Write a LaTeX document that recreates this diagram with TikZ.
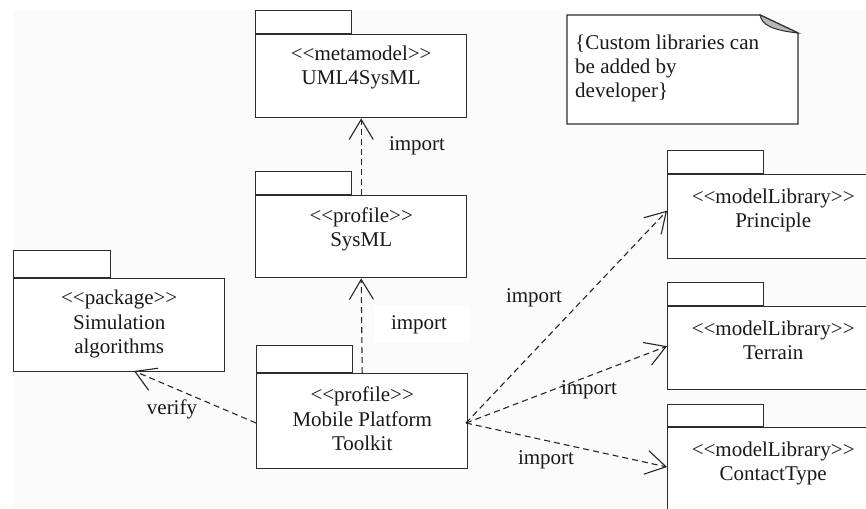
\documentclass[tikz,border=0pt]{standalone}
\usepackage{fontspec}
\newfontfamily\tnr{Liberation Serif}
\usetikzlibrary{arrows.meta,calc}
\definecolor{bgc}{RGB}{251,251,251}
\definecolor{lnc}{RGB}{45,45,45}
\tikzset{
  body/.style={draw=lnc,line width=1.4pt,fill=white,minimum width=211pt,inner sep=0pt,anchor=north west},
  tabbox/.style={draw=lnc,line width=1.4pt,fill=white,minimum width=96pt,inner sep=0pt,anchor=south west},
  lbl/.style={font=\tnr\fontsize{21}{24.5}\selectfont,align=center,inner sep=0pt,anchor=north,text=black!90},
  dep/.style={draw=black!85,line width=1.1pt,dash pattern=on 6pt off 4pt,-{Straight Barb[length=20pt,width=24pt,line width=1.1pt]}},
  elbl/.style={font=\tnr\fontsize{21}{24.5}\selectfont,inner sep=0pt,text=black!90},
}
\begin{document}
\begin{tikzpicture}[x=1pt,y=-1pt]
\useasboundingbox (0,0) rectangle (866,508);
\fill[white] (0,0) rectangle (866,508);
\fill[bgc] (13,10) rectangle (866,508);
\begin{scope}
\clip (0,0) rectangle (866,508);
% UML4SysML
\node[body,minimum height=83pt] (uml) at (255,34) {};
\node[tabbox,minimum height=23pt] (umlt) at (uml.north west) {};
\node[lbl] (umlx) at ($(uml.north)+(0,11.5)$) {<<metamodel>>\\UML4SysML};
% SysML
\node[body,minimum height=82pt] (sys) at (255,195) {};
\node[tabbox,minimum height=23pt] (syst) at (sys.north west) {};
\node[lbl] (sysx) at ($(sys.north)+(0,12.5)$) {<<profile>>\\SysML};
% Simulation algorithms
\node[body,minimum height=93pt] (sim) at (13,278) {};
\node[tabbox,minimum height=27pt,minimum width=97pt] (simt) at (sim.north west) {};
\node[lbl] (simx) at ($(sim.north)+(0,12)$) {<<package>>\\Simulation\\algorithms};
% Mobile Platform Toolkit
\node[body,minimum height=95pt] (mob) at (256,373) {};
\node[tabbox,minimum height=27pt] (mobt) at (mob.north west) {};
\node[lbl] (mobx) at ($(mob.north)+(0,14)$) {<<profile>>\\Mobile Platform\\Toolkit};
% Principle
\node[body,minimum height=84pt] (pri) at (667,174) {};
\node[tabbox,minimum height=23pt] (prit) at (pri.north west) {};
\node[lbl] (prix) at ($(pri.north)+(0,14.5)$) {<<modelLibrary>>\\Principle};
% Terrain
\node[body,minimum height=83pt] (ter) at (667,306) {};
\node[tabbox,minimum height=23pt] (tert) at (ter.north west) {};
\node[lbl] (terx) at ($(ter.north)+(0,14.5)$) {<<modelLibrary>>\\Terrain};
% ContactType
\node[body,minimum height=90pt] (con) at (667,427) {};
\node[tabbox,minimum height=22pt] (cont) at (con.north west) {};
\node[lbl] (conx) at ($(con.north)+(0,14.5)$) {<<modelLibrary>>\\ContactType};
% Note
\filldraw[draw=lnc,line width=1.4pt,fill=white] (567,15) -- (760,15) -- (798,33) -- (798,124) -- (567,124) -- cycle;
\filldraw[draw=lnc,line width=1pt,fill=black!28] (760,15) .. controls (762,24) and (770,30) .. (798,33) -- cycle;
\node[font=\tnr\fontsize{21}{24}\selectfont,align=left,inner sep=0pt,anchor=north west,text=black!90] (note) at (575,34.5) {\{Custom libraries can\\be added by\\developer\}};
% connectors
\coordinate (mp) at (466,423);
\coordinate (mpw) at (256,423);
\draw[dep] (sys.north) -- (uml.south);
\draw[dep] (mob.north) -- (sys.south);
\draw[dep] (mpw) -- (134,371);
\draw[dep] (mp) -- ($(pri.west)+(0,-6)$);
\draw[dep] (mp) -- ($(ter.west)+(0,-2)$);
\draw[dep] (mp) -- ($(con.north west)+(0,40)$);
% labels
\node[elbl] (l1) at (417,146) {import};
\fill[white] (375,305) rectangle (469,343);
\node[elbl] (l2) at (419,325) {import};
\node[elbl] (l3) at (534,298) {import};
\node[elbl] (l4) at (589,390) {import};
\node[elbl] (l5) at (546,460) {import};
\node[elbl] (l6) at (172,409) {verify};
\end{scope}
\end{tikzpicture}
\end{document}
